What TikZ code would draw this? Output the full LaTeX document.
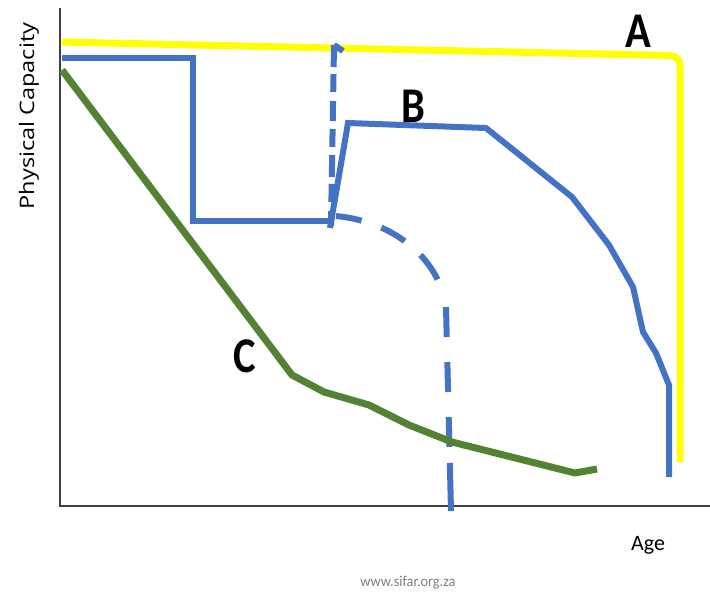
\documentclass[tikz,border=0pt]{standalone}
\usepackage{fontspec}
\setmainfont{Carlito}
\newfontfamily\labfont{Open Sans}
\definecolor{curveA}{HTML}{FFFF00}
\definecolor{curveB}{HTML}{4472C4}
\definecolor{curveC}{HTML}{548235}
\definecolor{axisgray}{HTML}{404040}
\definecolor{notegray}{HTML}{7F7F7F}
\tikzset{
  axisline/.style={draw=axisgray, line width=1.2pt},
  lineA/.style={draw=curveA, line width=7pt, line join=round},
  lineB/.style={draw=curveB, line width=6pt, line join=miter},
  dashB/.style={draw=curveB, line width=6pt},
  lineC/.style={draw=curveC, line width=7pt, line join=round},
  curvelabel/.style={font=\fontsize{50}{50}\selectfont\bfseries, inner sep=0pt, xscale=0.85},
  axislabel/.style={inner sep=0pt},
}
\begin{document}
\begin{tikzpicture}[x=1pt,y=-1pt]
\useasboundingbox (0,0) rectangle (710,595);
% axes
\coordinate (O) at (60,506);
\coordinate (ytop) at (60,8);
\coordinate (xend) at (710,506);
\draw[axisline] (ytop) -- (O) -- (xend);
% curve A
\coordinate (a0) at (62,42);
\coordinate (a2) at (680,462);
\draw[lineA] (a0) -- (670,55.5) to[out=0,in=90] (680,65) -- (a2);
% curve B solid
\coordinate (b0) at (62,58);
\coordinate (b1) at (193,58);
\coordinate (b2) at (193,221);
\coordinate (b3) at (330,221);
\draw[lineB] (b0) -- (b1) -- (b2) -- (b3);
\coordinate (b4) at (330,228);
\coordinate (b5) at (348,123);
\draw[lineB] (b4) -- (b5) -- (486,128) -- (572,197) -- (609,245) -- (633,287) -- (643,332) -- (656,353) -- (669,385) -- (669,477);
% curve B dashed
\coordinate (d0) at (343,51);
\coordinate (d1) at (334,45);
\coordinate (d2) at (331,226);
\draw[dashB, line cap=butt] (d0) -- (d1);
\draw[dashB, dash pattern=on 22pt off 7pt on 18pt off 9pt on 20pt off 8pt on 18pt off 8pt] (d1) -- (d2);
\coordinate (e0) at (336,216);
\coordinate (e1) at (446,307);
\coordinate (e2) at (451,511);
\draw[dashB, dash pattern=on 26pt off 21pt on 27pt off 21pt on 30pt off 60pt] (e0) .. controls (398,222) and (440,262) .. (e1);
\draw[dashB, dash pattern=on 30pt off 25pt on 30pt off 25pt on 30pt off 16pt on 60pt] (e1) -- (e2);
% curve C
\draw[lineC] (62,70) -- (292,375) -- (324,392) -- (369,405) -- (409,425) -- (452,442) -- (575,473) -- (597,469);
% labels
\node[curvelabel] (labA) at (638,31) {A};
\node[curvelabel] (labB) at (413,106) {B};
\node[curvelabel] (labC) at (245,356) {C};
\node[axislabel, rotate=90, font=\labfont\fontsize{23.5}{24}\selectfont, yscale=0.85] (ylab) at (29,116) {Physical Capacity};
\node[axislabel, font=\fontsize{22}{22}\selectfont] (xlab) at (648,545) {Age};
\node[axislabel, text=notegray, font=\fontsize{15}{15}\selectfont, xscale=0.95] (note) at (408,583) {www.sifar.org.za};
\end{tikzpicture}
\end{document}
